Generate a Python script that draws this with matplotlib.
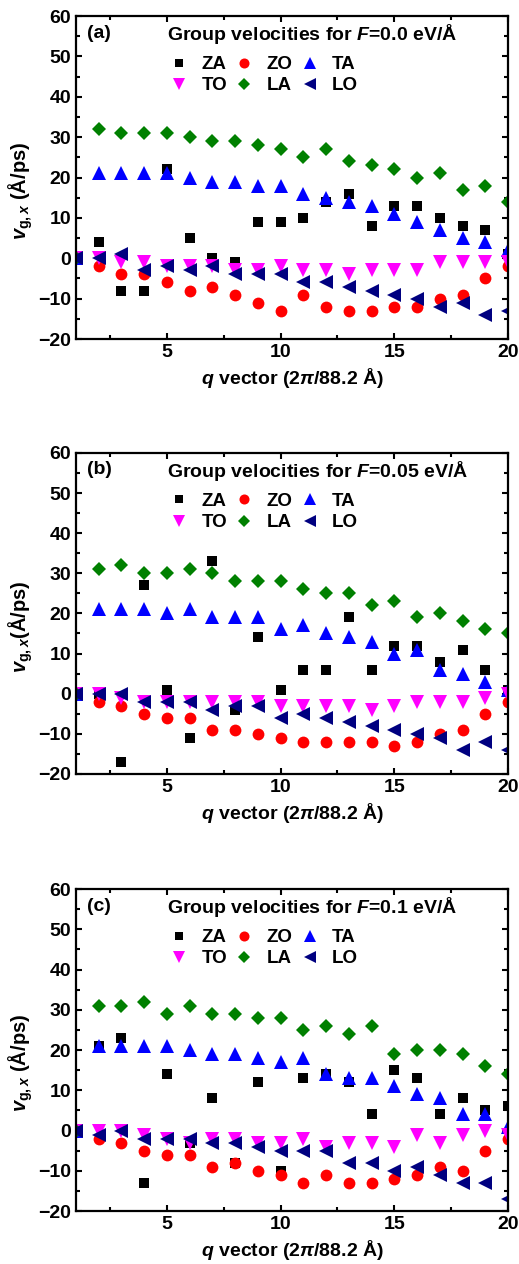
import matplotlib
matplotlib.use('Agg')
from matplotlib import pyplot as plt
from matplotlib.ticker import MultipleLocator
import numpy as np

plt.rcParams['font.family'] = ['Liberation Sans', 'DejaVu Sans']
plt.rcParams['font.weight'] = 'bold'
plt.rcParams['mathtext.fontset'] = 'custom'
plt.rcParams['mathtext.rm'] = 'Liberation Sans:bold'
plt.rcParams['mathtext.it'] = 'Liberation Sans:italic:bold'
plt.rcParams['mathtext.bf'] = 'Liberation Sans:bold'

q = np.arange(1, 21)

# panel (a) F = 0.0 eV/A
za_a = [0, 4, -8, -8, 22, 5, 0, -1, 9, 9, 10, 14, 16, 8, 13, 13, 10, 8, 7, 1]
zo_a = [0, -2, -4, -4, -6, -8, -7, -9, -11, -13, -9, -12, -13, -13, -12, -12, -10, -9, -5, -2]
ta_a = [0, 21, 21, 21, 21, 20, 19, 19, 18, 18, 16, 15, 14, 13, 11, 9, 7, 5, 4, 2]
to_a = [0, 0, -1, -1, -2, -2, -2, -3, -3, -2, -3, -3, -4, -3, -3, -3, -1, -1, -1, -1]
la_a = [0, 32, 31, 31, 31, 30, 29, 29, 28, 27, 25, 27, 24, 23, 22, 20, 21, 17, 18, 14]
lo_a = [0, 0, 1, -3, -2, -3, -2, -4, -4, -4, -6, -6, -7, -8, -9, -10, -12, -11, -14, -13]

# panel (b) F = 0.05 eV/A
za_b = [0, 0, -17, 27, 1, -11, 33, -4, 14, 1, 6, 6, 19, 6, 12, 12, 8, 11, 6, 1]
zo_b = [0, -2, -3, -5, -6, -6, -9, -9, -10, -11, -12, -12, -12, -12, -13, -12, -10, -9, -5, -2]
ta_b = [0, 21, 21, 21, 20, 21, 19, 19, 19, 16, 17, 15, 14, 13, 10, 11, 6, 5, 3, 1]
to_b = [0, 0, -1, -2, -2, -2, -2, -2, -2, -3, -3, -3, -3, -4, -3, -2, -2, -2, -1, 0]
la_b = [0, 31, 32, 30, 30, 31, 30, 28, 28, 28, 26, 25, 25, 22, 23, 19, 20, 18, 16, 15]
lo_b = [0, 0, 0, -2, -2, -2, -4, -3, -3, -6, -5, -6, -7, -8, -9, -10, -11, -14, -12, -14]

# panel (c) F = 0.1 eV/A
za_c = [0, 21, 23, -13, 14, -3, 8, -8, 12, -10, 13, 14, 12, 4, 15, 13, 4, 8, 5, 6]
zo_c = [0, -2, -3, -5, -6, -6, -9, -8, -10, -11, -13, -11, -13, -13, -12, -11, -9, -10, -5, -2]
ta_c = [0, 21, 21, 21, 21, 20, 19, 19, 18, 17, 18, 14, 13, 13, 11, 9, 8, 4, 4, 1]
to_c = [0, 0, 0, -1, -2, -3, -2, -2, -3, -3, -2, -4, -3, -3, -4, -1, -3, -1, 0, -1]
la_c = [0, 31, 31, 32, 29, 31, 29, 29, 28, 28, 25, 26, 24, 26, 19, 20, 20, 19, 16, 14]
lo_c = [0, -1, 0, -2, -2, -2, -3, -3, -4, -5, -5, -5, -8, -8, -10, -9, -11, -13, -13, -17]

panels = [
    ('(a)', '0.0', '$v_{\\mathrm{g,}x}$ (Å/ps)', [za_a, zo_a, ta_a, to_a, la_a, lo_a]),
    ('(b)', '0.05', '$v_{\\mathrm{g,}x}$(Å/ps)', [za_b, zo_b, ta_b, to_b, la_b, lo_b]),
    ('(c)', '0.1', '$v_{\\mathrm{g,}x}$ (Å/ps)', [za_c, zo_c, ta_c, to_c, la_c, lo_c]),
]

names = ['ZA', 'ZO', 'TA', 'TO', 'LA', 'LO']
markers = ['s', 'o', '^', 'v', 'D', '<']
sizes = [7.5, 8.5, 10, 10, 7.5, 10]
colors = ['black', '#FF0000', '#0000FF', '#FF00FF', '#008000', '#000080']

# axes boxes in figure fraction [left, bottom, width, height]
boxes = [[0.1464, 0.7318, 0.8324, 0.2555],
         [0.1464, 0.3877, 0.8324, 0.2540],
         [0.1464, 0.0419, 0.8324, 0.2547]]

fig = plt.figure(figsize=(5.19, 12.64), dpi=100)

for (tag, field, ylab, series), box in zip(panels, boxes):
    ax = fig.add_axes(box)
    handles = []
    for y, name, m, s, c in zip(series, names, markers, sizes, colors):
        h, = ax.plot(q, y, linestyle='none', marker=m, markersize=s,
                     color=c, markeredgewidth=0, label=name)
        handles.append(h)

    ax.set_xlim(1, 20)
    ax.set_ylim(-20, 60)
    ax.xaxis.set_major_locator(MultipleLocator(5))
    ax.xaxis.set_minor_locator(MultipleLocator(2.5))
    ax.yaxis.set_major_locator(MultipleLocator(10))
    ax.yaxis.set_minor_locator(MultipleLocator(5))
    ax.tick_params(which='both', direction='in', top=True, right=True,
                   width=1.5, labelsize=14)
    ax.tick_params(which='major', length=4.5)
    ax.tick_params(which='minor', length=3)
    for sp in ax.spines.values():
        sp.set_linewidth(1.6)

    ax.set_xlabel('$q$ vector (2$\\pi$/88.2 Å)', fontsize=14, fontweight='bold', labelpad=4)
    ax.set_ylabel(ylab, fontsize=14.5, fontweight='bold')
    ax.yaxis.set_label_coords(-0.095, 0.46)

    ax.text(0.025, 0.947, tag, transform=ax.transAxes, fontsize=14,
            fontweight='bold', va='center', ha='left')
    ax.text(0.21, 0.944, 'Group velocities for $F$=' + field + ' eV/Å',
            transform=ax.transAxes, fontsize=14, fontweight='bold',
            va='center', ha='left')

    order = [0, 3, 1, 4, 2, 5]
    ax.legend([handles[i] for i in order], [names[i] for i in order],
              ncol=3, loc='upper left', bbox_to_anchor=(0.222, 0.876),
              frameon=False, fontsize=13.5, handlelength=0.8,
              handletextpad=0.8, columnspacing=0.5, labelspacing=0.22,
              borderpad=0, borderaxespad=0, markerscale=0.85)

fig.savefig('out.png', dpi=100)
